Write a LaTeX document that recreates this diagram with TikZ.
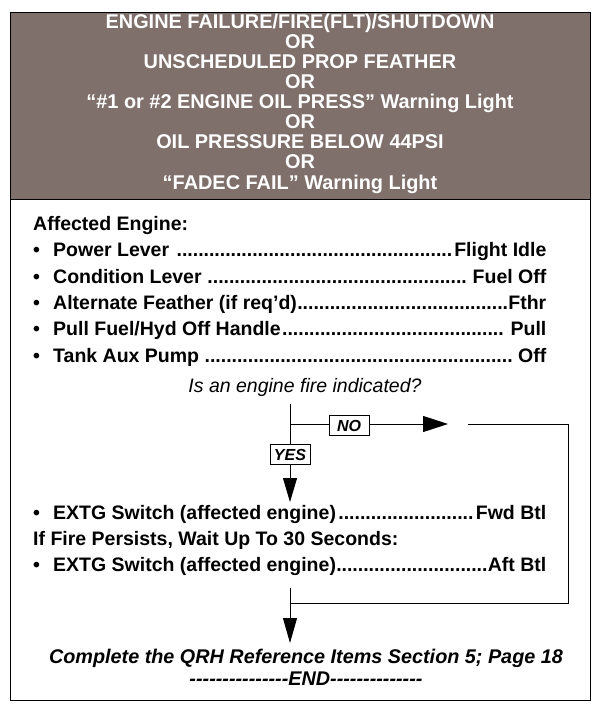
\documentclass[tikz,border=0pt]{standalone}
\usepackage{fontspec}
\setmainfont{Liberation Sans}
\usetikzlibrary{arrows.meta}

\definecolor{hdrgrey}{RGB}{127,112,107}
\newcommand{\lead}{\cleaders\hbox to 5.4pt{\hss.\hss}\hfill}
\newcommand{\chkline}[2]{\makebox[20pt][l]{\textbullet}\hbox to 493pt{#1\lead #2}}
\newcommand{\dashrun}[1]{\foreach \k in {1,...,#1}{\hbox{-}}}

\begin{document}
\begin{tikzpicture}[x=1pt, y=-1pt,
    hdr/.style={text=white, align=center, inner sep=0pt,
                font=\bfseries\fontsize{19.9}{20.1}\selectfont},
    frame/.style={line width=0.9pt},
    chk/.style={anchor=base west, inner sep=0pt, font=\bfseries\fontsize{19.5}{26}\selectfont},
    ask/.style={inner sep=0pt, font=\itshape\fontsize{19.5}{24}\selectfont},
    fin/.style={inner sep=0pt, font=\bfseries\itshape\fontsize{19.8}{24}\selectfont},
    tag/.style={draw, fill=white, line width=0.9pt, inner sep=0pt,
                font=\bfseries\itshape\fontsize{16}{17}\selectfont,
                minimum width=40pt, minimum height=20pt},
    flow/.style={line width=0.9pt},
    tipyes/.style={-{Triangle[length=24pt,width=14pt]}},
    tipno/.style={-{Triangle[length=25pt,width=16pt]}},
    tipend/.style={-{Triangle[length=25pt,width=14pt]}}
  ]
  \useasboundingbox (0,0) rectangle (608,708);

  % header
  \fill[hdrgrey] (10,12) rectangle (590.5,199);
  \node[hdr] (head) at (300,103.5)
    {ENGINE FAILURE/FIRE(FLT)/SHUTDOWN\\ OR\\ UNSCHEDULED PROP FEATHER\\ OR\\
     “\#1 or \#2 ENGINE OIL PRESS” Warning Light\\ OR\\ OIL PRESSURE BELOW 44PSI\\ OR\\
     “FADEC FAIL” Warning Light};
  \draw[frame] (10,12) rectangle (590.5,700);
  \draw[frame] (10,199) -- (590.5,199);

  % memory items
  \node[chk] (ae) at (33,231) {Affected Engine:};
  \node[chk] (pl) at (33,257) {\chkline{Power Lever }{Flight Idle}};
  \node[chk] (cl) at (33,283) {\chkline{Condition Lever }{ Fuel Off}};
  \node[chk] (af) at (33,309) {\chkline{Alternate Feather (if req’d)}{Fthr}};
  \node[chk] (pf) at (33,335) {\chkline{Pull Fuel/Hyd Off Handle}{ Pull}};
  \node[chk] (ta) at (33,362) {\chkline{Tank Aux Pump }{ Off}};

  % decision
  \node[ask] (q) at (305,387) {Is an engine fire indicated?};
  \coordinate (top)   at (290,404);
  \coordinate (split) at (290,424);
  \node[tag] (no)  at (349,425.5) {NO};
  \node[tag] (yes) at (290,454.5) {YES};
  \coordinate (ytip) at (290,502);
  \coordinate (ntip) at (448,424);
  \coordinate (back) at (468,424);
  \coordinate (rgt)  at (568.5,424);
  \coordinate (join) at (290,603);
  \coordinate (low)  at (290,588);
  \coordinate (ftip) at (290,643);

  \draw[flow] (top) -- (yes.north);
  \draw[flow,tipyes] (yes.south) -- (ytip);
  \draw[flow] (split) -- (split -| no.west);
  \draw[flow,tipno] (split -| no.east) -- (ntip);
  \draw[flow] (back) -- (rgt) |- (join);

  \node[chk] (fb) at (33,519) {\chkline{EXTG Switch (affected engine)}{Fwd Btl}};
  \node[chk] (fp) at (33,545) {If Fire Persists, Wait Up To 30 Seconds:};
  \node[chk] (ab) at (33,571) {\chkline{EXTG Switch (affected engine)}{Aft Btl}};

  \draw[flow,tipend] (low) -- (ftip);

  % closing
  \node[fin] (qrh) at (306,658) {Complete the QRH Reference Items Section 5; Page 18};
  \node[fin] (end) at (306,679) {\dashrun{15}END\dashrun{14}};
\end{tikzpicture}
\end{document}
